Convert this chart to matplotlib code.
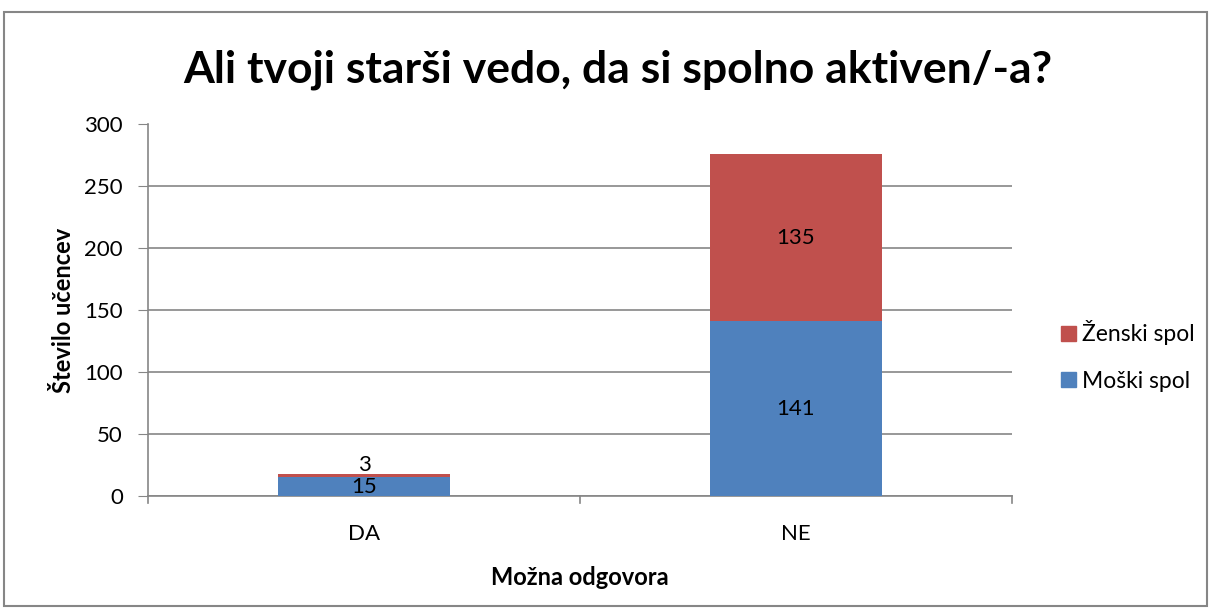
import matplotlib.pyplot as plt
from matplotlib.patches import Rectangle, Patch

kategorije = ['DA', 'NE']
moski = [15, 141]
zenski = [3, 135]
y_ticks = [0, 50, 100, 150, 200, 250, 300]

barva_m = '#4f81bd'
barva_z = '#c0504d'
siva = '#868686'

plt.rcParams['font.family'] = ['Lato', 'DejaVu Sans']

fig = plt.figure(figsize=(12.11, 6.10), dpi=100)
W, H = 1211, 610
ax = fig.add_axes([148 / W, 1 - 496 / H, (1012 - 148) / W, (496 - 124.5) / H])

x = [0, 1]
ax.bar(x, moski, width=0.4, color=barva_m, zorder=3)
ax.bar(x, zenski, width=0.4, bottom=moski, color=barva_z, zorder=3)

ax.set_xlim(-0.5, 1.5)
ax.set_ylim(0, 300)
ax.set_yticks(y_ticks)
ax.set_yticklabels([str(t) for t in y_ticks], fontsize=16)
ax.set_xticks(x)
ax.set_xticklabels(kategorije, fontsize=16)
ax.tick_params(axis='x', length=0, pad=20)
ax.tick_params(axis='y', length=7, color=siva, pad=11)
for xt in [-0.5, 0.5, 1.5]:
    ax.plot([xt, xt], [0, -6], color=siva, lw=1.2, clip_on=False, zorder=4)

ax.grid(axis='y', color=siva, lw=1.2, zorder=0)
for s in ['top', 'right']:
    ax.spines[s].set_visible(False)
for s in ['left', 'bottom']:
    ax.spines[s].set_color(siva)
    ax.spines[s].set_linewidth(1.2)

# oznake vrednosti
ax.text(0, moski[0] / 2, str(moski[0]), ha='center', va='center', fontsize=16, zorder=5)
ax.text(0, 25, str(zenski[0]), ha='center', va='center', fontsize=16, zorder=5)
ax.text(1, moski[1] / 2, str(moski[1]), ha='center', va='center', fontsize=16, zorder=5)
ax.text(1, moski[1] + zenski[1] / 2, str(zenski[1]), ha='center', va='center', fontsize=16, zorder=5)

ax.set_ylabel('Število učencev', fontsize=17, fontweight='bold', labelpad=7)
ax.set_xlabel('Možna odgovora', fontsize=17, fontweight='bold', labelpad=16)

fig.text(618 / W, 1 - 70 / H, 'Ali tvoji starši vedo, da si spolno aktiven/-a?',
         ha='center', va='center', fontsize=32, fontweight='bold')

legenda = [Patch(color=barva_z, label='Ženski spol'), Patch(color=barva_m, label='Moški spol')]
fig.legend(handles=legenda, loc='center left', bbox_to_anchor=(1040 / W, 1 - 356 / H),
           frameon=False, fontsize=16.5, handlelength=0.65, handleheight=0.65,
           handletextpad=0.3, labelspacing=1.1)

fig.patches.append(Rectangle((4 / W, 4 / H), 1203 / W, 1 - 16 / H, transform=fig.transFigure,
                             fill=False, edgecolor=siva, lw=1.5))

fig.savefig('out.png', dpi=100)
